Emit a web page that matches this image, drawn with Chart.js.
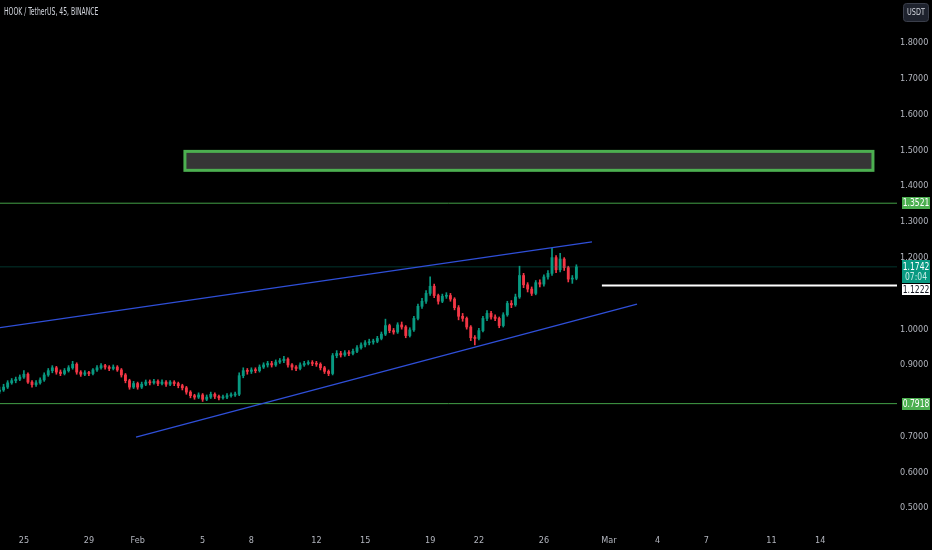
<!DOCTYPE html>
<html>
<head>
<meta charset="utf-8">
<script src="https://cdn.jsdelivr.net/npm/chart.js@4.4.1/dist/chart.umd.min.js"></script>
<style>
html, body { margin: 0; padding: 0; background: #000; }
#wrap { width: 932px; height: 550px; }
</style>
</head>
<body>
<div id="wrap"><canvas id="chart"></canvas></div>
<script>
// time axis is in days since Jan 1 2024 (Feb 1 = 31)
var tickDays   = [24, 28, 31, 35, 38, 42, 45, 49, 52, 56, 60, 63, 66, 70, 73];
var tickLabels = ["25", "29", "Feb", "5", "8", "12", "15", "19", "22", "26", "Mar", "4", "7", "11", "14"];
var priceTicks = [0.5, 0.6, 0.7, 0.8, 0.9, 1.0, 1.1, 1.2, 1.3, 1.4, 1.5, 1.6, 1.7, 1.8];

// 6h candles starting Jan 23 12:00
var candleStart = 22.5;
var candleStep = 0.25;
var firstOpen = 0.826;
var closes = [
  0.830, 0.838, 0.850, 0.856, 0.860, 0.866, 0.874, 0.852, 0.845, 0.850,
  0.858, 0.872, 0.884, 0.892, 0.880, 0.876, 0.884, 0.892, 0.902, 0.880,
  0.874, 0.878, 0.876, 0.886, 0.892, 0.898, 0.894, 0.890, 0.894, 0.886,
  0.872, 0.856, 0.838, 0.848, 0.838, 0.846, 0.852, 0.850, 0.854, 0.848,
  0.852, 0.846, 0.852, 0.848, 0.842, 0.836, 0.824, 0.814, 0.810, 0.816,
  0.804, 0.810, 0.818, 0.812, 0.808, 0.810, 0.814, 0.816, 0.818, 0.870,
  0.884, 0.882, 0.886, 0.884, 0.894, 0.900, 0.904, 0.900, 0.908, 0.912,
  0.916, 0.900, 0.894, 0.890, 0.900, 0.904, 0.906, 0.904, 0.902, 0.892,
  0.882, 0.876, 0.926, 0.932, 0.928, 0.934, 0.932, 0.938, 0.948, 0.956,
  0.962, 0.964, 0.966, 0.974, 0.986, 1.010, 0.996, 0.992, 1.012, 1.006,
  0.982, 0.998, 1.030, 1.064, 1.078, 1.100, 1.120, 1.094, 1.078, 1.092,
  1.094, 1.084, 1.060, 1.036, 1.030, 1.006, 0.976, 0.974, 0.996, 1.030,
  1.044, 1.034, 1.030, 1.010, 1.040, 1.072, 1.068, 1.090, 1.150, 1.124,
  1.112, 1.100, 1.130, 1.126, 1.146, 1.156, 1.200, 1.166, 1.196, 1.172,
  1.140, 1.142, 1.174
];
var highs = [
  0.838, 0.846, 0.856, 0.862, 0.866, 0.872, 0.884, 0.878, 0.856, 0.856,
  0.864, 0.878, 0.890, 0.898, 0.896, 0.886, 0.890, 0.898, 0.910, 0.906,
  0.884, 0.884, 0.882, 0.890, 0.898, 0.904, 0.902, 0.898, 0.900, 0.898,
  0.890, 0.876, 0.860, 0.854, 0.852, 0.852, 0.858, 0.858, 0.860, 0.858,
  0.858, 0.856, 0.856, 0.856, 0.852, 0.846, 0.840, 0.828, 0.818, 0.822,
  0.820, 0.816, 0.824, 0.822, 0.816, 0.816, 0.820, 0.822, 0.824, 0.878,
  0.892, 0.890, 0.892, 0.892, 0.900, 0.906, 0.910, 0.910, 0.914, 0.918,
  0.924, 0.920, 0.904, 0.898, 0.906, 0.910, 0.912, 0.912, 0.910, 0.906,
  0.896, 0.886, 0.932, 0.940, 0.938, 0.940, 0.940, 0.944, 0.954, 0.962,
  0.968, 0.972, 0.972, 0.980, 0.992, 1.028, 1.014, 1.002, 1.018, 1.020,
  1.010, 1.004, 1.036, 1.070, 1.086, 1.108, 1.146, 1.126, 1.098, 1.098,
  1.102, 1.100, 1.088, 1.066, 1.044, 1.034, 1.010, 0.982, 1.002, 1.036,
  1.052, 1.050, 1.040, 1.034, 1.046, 1.078, 1.080, 1.098, 1.176, 1.156,
  1.130, 1.118, 1.136, 1.138, 1.152, 1.164, 1.226, 1.206, 1.212, 1.200,
  1.176, 1.150, 1.180
];
var lows = [
  0.820, 0.826, 0.834, 0.846, 0.850, 0.856, 0.862, 0.848, 0.838, 0.840,
  0.846, 0.854, 0.868, 0.878, 0.874, 0.870, 0.872, 0.880, 0.888, 0.874,
  0.868, 0.870, 0.870, 0.872, 0.882, 0.888, 0.888, 0.884, 0.886, 0.882,
  0.866, 0.850, 0.832, 0.834, 0.832, 0.834, 0.842, 0.844, 0.846, 0.842,
  0.844, 0.840, 0.842, 0.842, 0.836, 0.830, 0.818, 0.808, 0.804, 0.806,
  0.798, 0.800, 0.806, 0.806, 0.802, 0.804, 0.806, 0.810, 0.812, 0.814,
  0.864, 0.874, 0.876, 0.878, 0.880, 0.890, 0.894, 0.894, 0.896, 0.904,
  0.906, 0.894, 0.886, 0.884, 0.886, 0.896, 0.900, 0.898, 0.896, 0.886,
  0.876, 0.870, 0.872, 0.920, 0.922, 0.924, 0.926, 0.928, 0.934, 0.944,
  0.950, 0.956, 0.958, 0.962, 0.970, 0.982, 0.990, 0.986, 0.988, 1.000,
  0.976, 0.978, 0.994, 1.026, 1.058, 1.072, 1.094, 1.088, 1.070, 1.074,
  1.086, 1.078, 1.054, 1.026, 1.022, 1.000, 0.968, 0.956, 0.970, 0.992,
  1.024, 1.028, 1.024, 1.004, 1.006, 1.036, 1.060, 1.064, 1.086, 1.116,
  1.104, 1.094, 1.096, 1.118, 1.120, 1.140, 1.150, 1.158, 1.160, 1.164,
  1.132, 1.128, 1.138
];

var greenLevels = [1.3521, 0.7918];
var lastPrice = 1.1742;
var countdown = "07:04";
var whiteLevel = 1.1222;
var whiteLevelFrom = 59.57;
var zoneDays = [33.91, 76.25];
var zonePrices = [1.444, 1.497];
var upperTrend = [[22.53, 1.004], [58.96, 1.244]];
var lowerTrend = [[30.9, 0.6985], [61.73, 1.0703]];

var xMin = 22.53, xMax = 77.73;
var yMin = 0.4525, yMax = 1.9202;

var UP = "#089981", DOWN = "#f23645";
var FONT = "'Liberation Sans Narrow', 'DejaVu Sans Condensed', 'Liberation Sans', sans-serif";

var wicks = [], bodies = [], colors = [];
for (var i = 0; i < closes.length; i++) {
  var x = candleStart + i * candleStep;
  var open = i === 0 ? firstOpen : closes[i - 1];
  wicks.push({ x: x, y: [lows[i], highs[i]] });
  bodies.push({ x: x, y: [open, closes[i]] });
  colors.push(closes[i] >= open ? UP : DOWN);
}

// axis labels hidden behind the price tags, like the terminal does
var tagValues = greenLevels.concat([lastPrice, whiteLevel]);
function coveredByTag(v) {
  return tagValues.some(function (t) { return Math.abs(t - v) < 0.025; });
}

function seg(a, b) {
  return [{ x: a[0], y: a[1] }, { x: b[0], y: b[1] }];
}
function lineSet(data, color, width) {
  return {
    type: "line", data: data, borderColor: color, borderWidth: width,
    pointRadius: 0, fill: false, tension: 0, order: 0
  };
}

// narrow text like the TradingView UI font
function narrowText(c, text, x, y, squeeze) {
  c.save();
  c.translate(x, y);
  c.scale(squeeze, 1);
  c.fillText(text, 0, 0);
  c.restore();
}

var overlays = {
  id: "overlays",
  beforeDraw: function (chart) {
    var c = chart.ctx;
    c.save();
    c.fillStyle = "#000";
    c.fillRect(0, 0, chart.width, chart.height);
    c.restore();
  },
  beforeDatasetsDraw: function (chart) {
    var c = chart.ctx, xs = chart.scales.x, ys = chart.scales.y;
    var x1 = xs.getPixelForValue(zoneDays[0]), x2 = xs.getPixelForValue(zoneDays[1]);
    var y1 = ys.getPixelForValue(zonePrices[1]), y2 = ys.getPixelForValue(zonePrices[0]);
    c.save();
    c.fillStyle = "#363636";
    c.fillRect(x1, y1, x2 - x1, y2 - y1);
    c.strokeStyle = "#4caf50";
    c.lineWidth = 3;
    c.strokeRect(x1, y1, x2 - x1, y2 - y1);
    c.restore();
  },
  afterDraw: function (chart) {
    var c = chart.ctx, ys = chart.scales.y;
    var bx = 902, bw = 28, cx = bx + bw / 2;
    c.save();
    c.font = "10px " + FONT;
    c.textAlign = "center";
    c.textBaseline = "middle";

    greenLevels.forEach(function (v) {
      var y = Math.round(ys.getPixelForValue(v));
      c.fillStyle = "#4caf50";
      c.fillRect(bx, y - 6, bw, 12);
      c.fillStyle = "#fff";
      narrowText(c, v.toFixed(4), cx, y + 0.5, 0.85);
    });

    var py = Math.round(ys.getPixelForValue(lastPrice));
    c.fillStyle = UP;
    c.fillRect(bx, py - 7, bw, 23);
    c.fillStyle = "#fff";
    narrowText(c, lastPrice.toFixed(4), cx, py, 0.85);
    c.fillStyle = "#c8ece6";
    narrowText(c, countdown, cx, py + 10, 0.85);

    var wy = Math.round(ys.getPixelForValue(whiteLevel));
    var top = Math.max(wy - 6, py + 17);
    c.fillStyle = "#fff";
    c.fillRect(bx, top, bw, 11);
    c.fillStyle = "#131722";
    narrowText(c, whiteLevel.toFixed(4), cx, top + 6, 0.85);

    // symbol title and currency button
    c.textAlign = "left";
    c.fillStyle = "#d1d4dc";
    c.font = "10px " + FONT;
    narrowText(c, "HOOK / TetherUS, 45, BINANCE", 4, 12, 0.68);
    c.fillStyle = "#1e222d";
    c.strokeStyle = "#3a3e4a";
    c.lineWidth = 1;
    c.beginPath();
    c.roundRect(903.5, 3.5, 25, 18, 3);
    c.fill();
    c.stroke();
    c.fillStyle = "#d1d4dc";
    c.textAlign = "center";
    c.font = "9px " + FONT;
    narrowText(c, "USDT", 916, 13, 0.8);
    c.restore();
  }
};

new Chart(document.getElementById("chart"), {
  type: "bar",
  data: {
    datasets: [
      lineSet(seg(upperTrend[0], upperTrend[1]), "#2f4fd8", 1.3),
      lineSet(seg(lowerTrend[0], lowerTrend[1]), "#2f4fd8", 1.3),
      lineSet(seg([xMin, greenLevels[0]], [xMax, greenLevels[0]]), "#43a047", 1),
      lineSet(seg([xMin, greenLevels[1]], [xMax, greenLevels[1]]), "#43a047", 1),
      lineSet(seg([xMin, lastPrice], [xMax, lastPrice]), "rgba(8,153,129,0.35)", 1),
      lineSet(seg([whiteLevelFrom, whiteLevel], [xMax, whiteLevel]), "#ffffff", 2),
      {
        data: wicks, backgroundColor: colors, barThickness: 1,
        grouped: false, order: 2
      },
      {
        data: bodies, backgroundColor: colors, barThickness: 2.2,
        grouped: false, order: 1, minBarLength: 1
      }
    ]
  },
  options: {
    responsive: true,
    maintainAspectRatio: false,
    animation: false,
    layout: { padding: 0, autoPadding: false },
    plugins: { legend: { display: false }, tooltip: { enabled: false } },
    scales: {
      x: {
        type: "linear", min: xMin, max: xMax, offset: false,
        grid: { display: false, drawTicks: false }, border: { display: false },
        afterFit: function (s) { s.height = 25; s.paddingLeft = 0; s.paddingRight = 0; },
        afterBuildTicks: function (s) { s.ticks = tickDays.map(function (d) { return { value: d }; }); },
        ticks: {
          autoSkip: false, maxRotation: 0, padding: 10, color: "#b2b5be",
          font: { family: FONT, size: 9 },
          callback: function (v, idx) { return tickLabels[idx]; }
        }
      },
      y: {
        position: "right", min: yMin, max: yMax,
        grid: { display: false, drawTicks: false }, border: { display: false },
        afterFit: function (s) { s.width = 35; s.paddingTop = 0; s.paddingBottom = 0; },
        afterBuildTicks: function (s) { s.ticks = priceTicks.map(function (v) { return { value: v }; }); },
        ticks: {
          padding: 3, color: "#b2b5be",
          font: { family: FONT, size: 9 },
          callback: function (v) { return coveredByTag(v) ? "" : v.toFixed(4); }
        }
      }
    }
  },
  plugins: [overlays]
});
</script>
</body>
</html>
